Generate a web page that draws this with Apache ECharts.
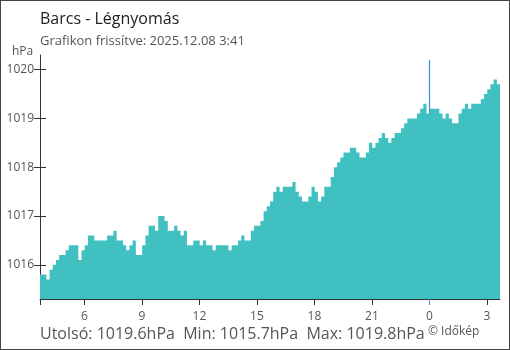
<!DOCTYPE html>
<html><head><meta charset="utf-8">
<script src="https://cdn.jsdelivr.net/npm/echarts@6/dist/echarts.min.js"></script>
<style>
html,body{margin:0;padding:0;background:#fff}
#c{width:510px;height:350px}
#b{position:absolute;left:0;top:0;width:510px;height:350px;box-sizing:border-box;border:1px solid #444;pointer-events:none}
</style></head><body>
<div id="c"></div><div id="b"></div>
<script>
const chartTitle = 'Barcs - Légnyomás';
const chartSubtitle = 'Grafikon frissítve: 2025.12.08 3:41';
const unitLabel = 'hPa';
const statsText = 'Utolsó: 1019.6hPa  Min: 1015.7hPa  Max: 1019.8hPa';
const creditText = '© Időkép';

// 10-minute readings starting 3:41 (previous day) until 3:41
const startHour = 3 + 41 / 60;
const stepMinutes = 10;
const pressure = [
  1015.8, 1015.8, 1015.7, 1015.9, 1016.0, 1016.1, 1016.2, 1016.2, 1016.3, 1016.4,
  1016.4, 1016.4, 1016.1, 1016.3, 1016.4, 1016.6, 1016.6, 1016.5, 1016.5, 1016.5,
  1016.5, 1016.6, 1016.6, 1016.7, 1016.5, 1016.5, 1016.4, 1016.3, 1016.4, 1016.5,
  1016.2, 1016.2, 1016.4, 1016.6, 1016.8, 1016.8, 1016.7, 1017.0, 1017.0, 1016.9,
  1016.7, 1016.7, 1016.8, 1016.7, 1016.6, 1016.7, 1016.4, 1016.4, 1016.5, 1016.5,
  1016.4, 1016.5, 1016.4, 1016.4, 1016.3, 1016.4, 1016.4, 1016.4, 1016.4, 1016.3,
  1016.4, 1016.4, 1016.5, 1016.6, 1016.5, 1016.5, 1016.7, 1016.8, 1016.8, 1016.9,
  1017.1, 1017.2, 1017.3, 1017.5, 1017.6, 1017.5, 1017.6, 1017.6, 1017.6, 1017.7,
  1017.5, 1017.4, 1017.3, 1017.3, 1017.4, 1017.6, 1017.5, 1017.3, 1017.4, 1017.6,
  1017.6, 1017.8, 1018.0, 1018.1, 1018.2, 1018.3, 1018.3, 1018.4, 1018.4, 1018.3,
  1018.2, 1018.2, 1018.3, 1018.5, 1018.4, 1018.5, 1018.6, 1018.7, 1018.6, 1018.5,
  1018.6, 1018.7, 1018.7, 1018.8, 1018.9, 1019.0, 1019.0, 1019.0, 1019.1, 1019.2,
  1019.3, 1019.1, 1019.2, 1019.2, 1019.2, 1019.1, 1019.0, 1019.1, 1019.0, 1018.9,
  1018.9, 1019.1, 1019.2, 1019.3, 1019.2, 1019.3, 1019.3, 1019.3, 1019.4, 1019.5,
  1019.6, 1019.7, 1019.8, 1019.7
];
const xTickHours = [6, 9, 12, 15, 18, 21, 24, 27];
const yTickValues = [1016, 1017, 1018, 1019, 1020];
const yMin = 1015.3, yMax = 1020.3;
const midnightHour = 24;
const midnightMarkTop = 1020.2;

const endHour = startHour + 24;
const seriesData = pressure.map((v, i) => [startHour + i * stepMinutes / 60, v]);
seriesData.push([endHour, pressure[pressure.length - 1]]);

const FONT = 'Open Sans';
const BLUE = '#3f8cd4';
const chart = echarts.init(document.getElementById('c'), null, {renderer: 'canvas'});
chart.setOption({
  animation: false,
  textStyle: {fontFamily: FONT},
  title: [
    {text: chartTitle, left: 40, top: 11, padding: 0,
     textStyle: {fontSize: 16, fontWeight: 'normal', color: '#222', fontFamily: FONT, lineHeight: 16}},
    {text: chartSubtitle, left: 40, top: 35, padding: 0,
     textStyle: {fontSize: 13, fontWeight: 'normal', color: '#555', fontFamily: FONT, lineHeight: 13}},
    {text: unitLabel, left: 12, top: 46, padding: 0,
     textStyle: {fontSize: 12, fontWeight: 'normal', color: '#555', fontFamily: FONT, lineHeight: 12}},
    {text: statsText, left: 40, top: 326, padding: 0,
     textStyle: {fontSize: 16, fontWeight: 'normal', color: '#555', fontFamily: FONT, lineHeight: 16}},
    {text: creditText, left: 428, top: 326, padding: 0,
     textStyle: {fontSize: 12, fontWeight: 'normal', color: '#555', fontFamily: FONT, lineHeight: 12}}
  ],
  grid: {left: 40, right: 10, top: 55, bottom: 51, containLabel: false},
  xAxis: [
    {type: 'value', min: startHour, max: endHour, position: 'bottom',
     axisLine: {show: true, lineStyle: {color: '#333', width: 1}},
     axisTick: {show: true, customValues: [startHour].concat(xTickHours.filter(h => h !== midnightHour)),
                length: 6, lineStyle: {color: '#333'}},
     axisLabel: {show: true, customValues: xTickHours, formatter: v => String(Math.round(v) % 24),
                 color: '#555', fontSize: 12, margin: 12, fontFamily: FONT},
     splitLine: {show: false}},
    {type: 'value', min: startHour, max: endHour, position: 'bottom', offset: 0,
     axisLine: {show: false},
     axisTick: {show: true, customValues: [midnightHour], length: 6, lineStyle: {color: BLUE, width: 1}},
     axisLabel: {show: false}, splitLine: {show: false}}
  ],
  yAxis: [
    {type: 'value', min: yMin, max: yMax, position: 'left', offset: 0,
     axisLine: {show: true, lineStyle: {color: '#333', width: 1}},
     axisTick: {show: true, customValues: yTickValues, length: 6, lineStyle: {color: '#333'}},
     axisLabel: {show: true, customValues: yTickValues, formatter: v => String(Math.round(v)),
                 color: '#555', fontSize: 12, margin: 6, fontFamily: FONT},
     splitLine: {show: false}},
    {type: 'value', min: yMin, max: yMax, position: 'left', offset: 0,
     axisLine: {show: false},
     axisTick: {show: true, inside: true, customValues: yTickValues, length: 6, lineStyle: {color: '#333'}},
     axisLabel: {show: false}, splitLine: {show: false}}
  ],
  series: [{
    type: 'line', xAxisIndex: 0, yAxisIndex: 0, data: seriesData, step: 'end',
    symbol: 'none', z: 2,
    lineStyle: {width: 0, color: '#41c0c2'},
    itemStyle: {color: '#41c0c2'},
    areaStyle: {color: '#41c0c2', opacity: 1, origin: 'start'},
    markLine: {
      z: 1, silent: true, symbol: 'none', label: {show: false},
      lineStyle: {color: BLUE, width: 1.2, type: 'solid', opacity: 1},
      emphasis: {disabled: true},
      data: [[{coord: [midnightHour, midnightMarkTop], lineStyle: {color: BLUE}},
              {coord: [midnightHour, yMin]}]]
    }
  }]
});
</script>
</body></html>
